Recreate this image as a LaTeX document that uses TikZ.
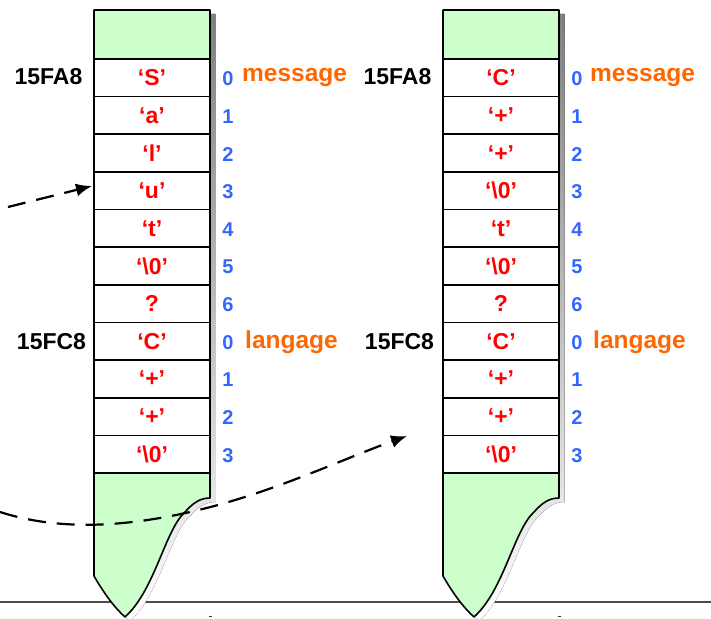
\documentclass[tikz,border=0pt]{standalone}
\usepackage{fontspec}
\setmainfont{Liberation Sans}
\usetikzlibrary{arrows.meta}
\definecolor{cellgreen}{HTML}{CCFFCC}
\definecolor{idxblue}{HTML}{3366FF}
\definecolor{namecol}{HTML}{FF6600}
\definecolor{shade}{HTML}{6A6A6A}
\tikzset{
  addr/.style={font=\bfseries\fontsize{23}{23}\selectfont, text=black, inner sep=0pt},
  chr/.style={font=\bfseries\fontsize{23}{23}\selectfont, text=red, inner sep=0pt},
  idx/.style={font=\bfseries\fontsize{20}{20}\selectfont, text=idxblue, inner sep=0pt},
  varname/.style={font=\bfseries\fontsize{24.5}{24.5}\selectfont, text=namecol, inner sep=0pt, anchor=west},
  cellline/.style={line width=1.6pt, draw=black},
  ptr/.style={line width=2.2pt, dash pattern=on 18pt off 11pt, -{Latex[length=16pt,width=13pt]}},
}
% one memory column: x shift, 11 cell contents, name prefix
\newcommand{\memcolumn}[3]{%
  \begin{scope}[xshift=#1]
    % drop shadow
    \fill[shade] (99,14) -- (215.5,14) -- (215.5,502)
      .. controls (205,502) and (198,507) .. (190,516)
      .. controls (170,534) and (160,594) .. (130,621)
      .. controls (120,612) and (110,599) .. (99,580) -- cycle;
    % body
    \fill[cellgreen] (94,10) -- (210,10) -- (210,498)
      .. controls (200,498) and (193,503) .. (185,512)
      .. controls (165,530) and (155,590) .. (125,617)
      .. controls (115,608) and (105,595) .. (94,576) -- cycle;
    \fill[white] (94,59) rectangle (210,473);
    \draw[cellline, line join=round] (94,10) -- (210,10) -- (210,498)
      .. controls (200,498) and (193,503) .. (185,512)
      .. controls (165,530) and (155,590) .. (125,617)
      .. controls (115,608) and (105,595) .. (94,576) -- cycle;
    \foreach \i in {0,...,11} {
      \draw[cellline] (94,{59+37.64*\i}) -- (210,{59+37.64*\i});
    }
    \foreach \c [count=\k from 0] in {#2} {
      \node[chr] (#3c\k) at (152,{59+37.64*(\k+0.5)}) {\c};
    }
    \foreach \d [count=\k from 0] in {0,1,2,3,4,5,6,0,1,2,3} {
      \node[idx] (#3i\k) at (228,{60+37.64*(\k+0.5)}) {\d};
    }
    \draw[line width=1.2pt, draw=black!80] (208.5,616.5) -- (211.5,616.5);
  \end{scope}
}

\begin{document}
\begin{tikzpicture}[x=1pt,y=-1pt]
  \useasboundingbox (0,0) rectangle (711,618);
  \fill[white] (0,0) rectangle (711,618);

  % ground line
  \draw[line width=1.4pt, draw=black!70] (0,602) -- (711,602);

  \memcolumn{0}{‘S’,‘a’,‘l’,‘u’,‘t’,‘\textbackslash 0’,?,‘C’,‘+’,‘+’,‘\textbackslash 0’}{L}
  \memcolumn{349}{‘C’,‘+’,‘+’,‘\textbackslash 0’,‘t’,‘\textbackslash 0’,?,‘C’,‘+’,‘+’,‘\textbackslash 0’}{R}

  % addresses
  \node[addr] (la1) at (48.5,77) {15FA8};
  \node[addr] (la2) at (51.5,342) {15FC8};
  \node[addr] (ra1) at (397.5,77) {15FA8};
  \node[addr] (ra2) at (399.5,342) {15FC8};

  % variable names
  \node[varname] (lm) at (242,77) {message};
  \node[varname] (ll) at (245,342) {langage};
  \node[varname] (rm) at (590,77) {message};
  \node[varname] (rl) at (593,342) {langage};

  % pointers
  \coordinate (p1s) at (8,207);
  \coordinate (p1e) at (92,186);
  \draw[ptr] (p1s) -- (p1e);

  \coordinate (p2s) at (0,512);
  \coordinate (p2m) at (190,512);
  \coordinate (p2e) at (407,436);
  \draw[ptr] (p2s) .. controls (50,528) and (110,530) .. (p2m)
    .. controls (270,494) and (340,460) .. (p2e);
\end{tikzpicture}
\end{document}
